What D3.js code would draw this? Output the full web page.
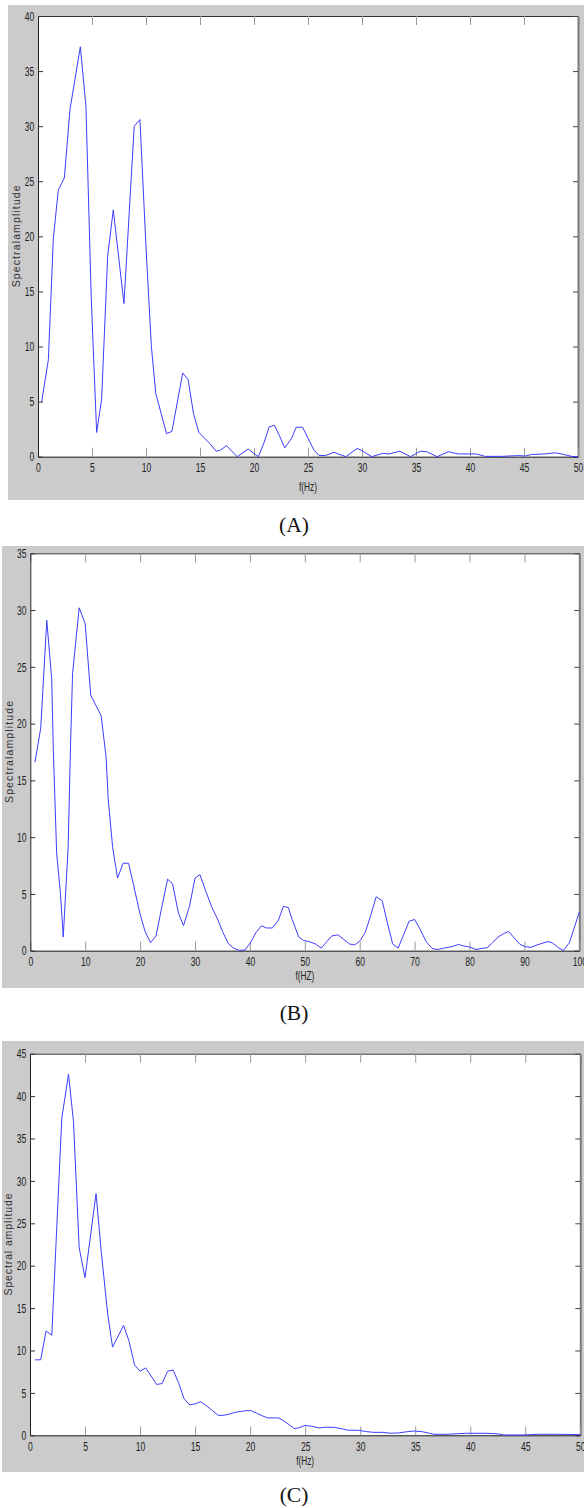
<!DOCTYPE html>
<html>
<head>
<meta charset="utf-8">
<script src="https://cdn.jsdelivr.net/npm/d3@7"></script>
<style>
  body { margin: 0; background: #fff; }
  svg { display: block; }
</style>
</head>
<body>
<svg id="chart" width="584" height="1508"></svg>
<script>
// three spectra, frequency (Hz) vs spectral amplitude

// (A) 0-50 Hz
const aFreq = [0.34, 0.96, 1.42, 1.88, 2.44, 2.96, 3.92, 4.44, 4.93, 5.43, 5.89, 6.45, 6.97, 7.96, 8.91, 9.44,
  10.0, 10.5, 10.9, 11.9, 12.4, 13.4, 13.9, 14.4, 14.9, 15.9, 16.5, 16.9, 17.45, 18.44, 19.46, 20.4, 20.94,
  21.4, 21.9, 22.4, 22.85, 23.5, 23.9, 24.5, 25.0, 25.55, 26.0, 26.6, 27.4, 28.5, 29.55, 30.0, 30.9, 31.9,
  32.5, 33.5, 34.5, 35.4, 36.0, 36.95, 38.0, 38.9, 40.6, 41.4, 42.9, 44.5, 45.1, 45.7, 46.9, 47.9, 48.5,
  49.4, 50.0]
const aAmp = [5.0, 8.8, 19.8, 24.2, 25.3, 31.5, 37.2, 31.8, 14.4, 2.2, 5.2, 18.2, 22.4, 13.9, 30.0, 30.6,
  19.0, 10.0, 5.75, 2.1, 2.3, 7.6, 7.0, 3.9, 2.2, 1.2, 0.5, 0.6, 1.0, 0.0, 0.7, 0.0, 1.3,
  2.7, 2.85, 1.8, 0.8, 1.7, 2.67, 2.67, 1.67, 0.6, 0.12, 0.1, 0.4, 0.0, 0.75, 0.55, 0.0, 0.3,
  0.25, 0.5, 0.0, 0.5, 0.45, 0.0, 0.45, 0.25, 0.25, 0.03, 0.03, 0.1, 0.06, 0.2, 0.25, 0.35, 0.25,
  0.03, 0.0]

// (B) 0-100 Hz
const bFreq = [0.85, 1.9, 3.0, 3.9, 4.2, 4.8, 5.5, 6.0, 6.9, 7.3, 7.7, 8.9, 10.0, 11.0, 12.9, 13.8, 14.2,
  15.0, 15.9, 16.9, 17.9, 18.9, 19.9, 20.9, 21.9, 22.9, 23.9, 25.0, 25.9, 27.0, 27.9, 29.0, 30.0, 30.9,
  32.0, 33.0, 34.1, 35.0, 36.1, 37.1, 38.1, 39.1, 40.1, 41.1, 42.1, 43.0, 44.1, 45.2, 46.1, 47.0, 47.7,
  48.9, 49.8, 50.8, 51.9, 53.0, 54.0, 54.9, 56.0, 57.1, 58.1, 59.1, 60.1, 61.0, 62.0, 63.0, 64.1, 65.0,
  66.0, 67.0, 68.0, 69.0, 70.0, 71.0, 72.1, 73.2, 74.1, 75.1, 76.2, 77.1, 78.0, 79.1, 80.2, 81.2, 82.2,
  83.2, 84.1, 85.2, 86.2, 87.1, 88.2, 89.2, 90.2, 91.2, 92.3, 93.2, 94.3, 95.1, 96.2, 97.1, 98.2, 100.0]
const bAmp = [16.6, 19.6, 29.1, 23.9, 17.6, 8.6, 5.0, 1.2, 9.2, 17.6, 24.4, 30.2, 28.8, 22.5, 20.7, 17.1, 13.3,
  9.1, 6.4, 7.7, 7.7, 5.6, 3.4, 1.7, 0.7, 1.3, 3.7, 6.3, 5.9, 3.3, 2.2, 3.9, 6.4, 6.7,
  5.2, 3.9, 2.8, 1.7, 0.6, 0.2, 0.03, 0.06, 0.7, 1.6, 2.2, 2.0, 2.0, 2.7, 3.9, 3.8, 2.75,
  1.2, 0.9, 0.8, 0.6, 0.23, 0.8, 1.3, 1.4, 1.0, 0.6, 0.5, 0.9, 1.6, 3.1, 4.75, 4.4, 2.55,
  0.6, 0.23, 1.4, 2.6, 2.75, 1.9, 0.8, 0.2, 0.1, 0.2, 0.3, 0.4, 0.55, 0.4, 0.3, 0.1, 0.2,
  0.26, 0.65, 1.2, 1.5, 1.7, 1.1, 0.55, 0.35, 0.3, 0.5, 0.65, 0.8, 0.7, 0.26, 0.03, 0.7, 3.4]

// (C) 0-50 Hz
const cFreq = [0.46, 0.97, 1.46, 1.98, 2.89, 3.5, 3.95, 4.47, 5.0, 6.0, 6.47, 7.05, 7.5, 8.5, 9.0, 9.5,
  10.0, 10.5, 11.0, 11.5, 12.0, 12.5, 13.0, 13.5, 14.0, 14.5, 15.0, 15.5, 16.0, 16.6, 17.1, 17.6, 18.1,
  18.6, 19.1, 19.6, 20.1, 20.6, 21.1, 21.6, 22.1, 22.6, 23.1, 23.6, 24.0, 24.4, 25.0, 25.6, 26.3, 26.8,
  27.6, 28.4, 28.9, 29.8, 30.6, 31.2, 32.0, 32.8, 33.5, 34.3, 34.9, 35.6, 36.2, 36.7, 37.9, 39.7, 41.5,
  42.6, 43.0, 44.9, 46.1, 47.9, 50.0]
const cAmp = [8.9, 8.9, 12.3, 11.8, 37.4, 42.6, 37.0, 22.1, 18.6, 28.5, 21.7, 14.4, 10.4, 12.95, 11.1, 8.3,
  7.55, 7.95, 7.0, 6.0, 6.1, 7.55, 7.7, 6.2, 4.3, 3.6, 3.7, 3.95, 3.5, 2.9, 2.35, 2.35, 2.5,
  2.7, 2.8, 2.9, 2.9, 2.6, 2.3, 2.05, 2.05, 2.05, 1.65, 1.2, 0.8, 0.87, 1.18, 1.06, 0.87, 0.95,
  0.95, 0.75, 0.6, 0.6, 0.43, 0.35, 0.35, 0.24, 0.28, 0.43, 0.5, 0.43, 0.28, 0.12, 0.12, 0.24, 0.24,
  0.15, 0.04, 0.04, 0.12, 0.12, 0.08]

// tick values
const ticks0to50 = [0, 5, 10, 15, 20, 25, 30, 35, 40, 45, 50]
const ticks0to100 = [0, 10, 20, 30, 40, 50, 60, 70, 80, 90, 100]
const aYTicks = [0, 5, 10, 15, 20, 25, 30, 35, 40]
const bYTicks = [0, 5, 10, 15, 20, 25, 30, 35]
const cYTicks = [0, 5, 10, 15, 20, 25, 30, 35, 40, 45]

// panel layout: grey figure box, white axes box, labels
const panels = [
  { freq: aFreq, amp: aAmp, xMax: 50, yMax: 40, xTicks: ticks0to50, yTicks: aYTicks,
    frame: [8, 5, 576, 495], box: [38, 16, 578, 456.7],
    xLabel: "f(Hz)", xLabelY: 490.5, yLabel: "Spectralamplitude", yLabelX: 20,
    caption: "(A)", captionY: 532 },
  { freq: bFreq, amp: bAmp, xMax: 100, yMax: 35, xTicks: ticks0to100, yTicks: bYTicks,
    frame: [2, 546, 582, 442], box: [30.3, 553.3, 579.3, 950.7],
    xLabel: "f(HZ)", xLabelY: 980, yLabel: "Spectralamplitude", yLabelX: 12.5,
    caption: "(B)", captionY: 1020 },
  { freq: cFreq, amp: cAmp, xMax: 50, yMax: 45, xTicks: ticks0to50, yTicks: cYTicks,
    frame: [2, 1041, 582, 431], box: [30, 1053.7, 580.3, 1435.3],
    xLabel: "f(Hz)", xLabelY: 1465, yLabel: "Spectral amplitude", yLabelX: 12,
    caption: "(C)", captionY: 1502 }
]

const svg = d3.select("#chart")
const narrow = "scale(0.66,1)"   // matlab tick font looks squashed
const tickFont = "Liberation Sans, Arial, sans-serif"

panels.forEach(p => {
  const [x0, y0, x1, y1] = p.box
  const w = x1 - x0, h = y1 - y0

  // grey figure background
  svg.append("rect")
    .attr("x", p.frame[0]).attr("y", p.frame[1])
    .attr("width", p.frame[2]).attr("height", p.frame[3])
    .attr("fill", "#cbcbcb")

  const g = svg.append("g").attr("transform", `translate(${x0},${y0})`)

  g.append("rect").attr("width", w).attr("height", h).attr("fill", "#fff")

  const x = d3.scaleLinear().domain([0, p.xMax]).range([0, w])
  const y = d3.scaleLinear().domain([0, p.yMax]).range([h, 0])

  // top and right box edges with inward ticks, no labels
  g.append("g")
    .call(d3.axisTop(x).tickValues(p.xTicks).tickSizeInner(-9).tickSizeOuter(0).tickFormat(""))
    .call(a => a.select(".domain").attr("stroke", "#333"))
    .call(a => a.selectAll(".tick line").attr("stroke", "#9a9a9a"))

  g.append("g").attr("transform", `translate(${w},0)`)
    .call(d3.axisRight(y).tickValues(p.yTicks).tickSizeInner(-5).tickSizeOuter(0).tickFormat(""))
    .call(a => a.select(".domain").attr("stroke", "#7a7a7a").attr("stroke-width", 2))
    .call(a => a.selectAll(".tick line").attr("stroke", "#444"))

  // bottom axis
  g.append("g").attr("transform", `translate(0,${h})`)
    .call(d3.axisBottom(x).tickValues(p.xTicks).tickSizeInner(-9).tickSizeOuter(0).tickPadding(6.5))
    .attr("font-family", tickFont).attr("font-size", 13)
    .call(a => a.select(".domain").attr("stroke", "#222"))
    .call(a => a.selectAll(".tick line").attr("stroke", "#9a9a9a"))
    .call(a => a.selectAll("text").attr("transform", narrow).attr("fill", "#222"))

  // left axis
  g.append("g")
    .call(d3.axisLeft(y).tickValues(p.yTicks).tickSizeInner(-5).tickSizeOuter(0).tickPadding(5.6))
    .attr("font-family", tickFont).attr("font-size", 13)
    .call(a => a.select(".domain").attr("stroke", "#222"))
    .call(a => a.selectAll(".tick line").attr("stroke", "#333"))
    .call(a => a.selectAll("text").attr("transform", narrow).attr("fill", "#222"))

  // spectrum line
  const line = d3.line()
    .x((d, i) => x(p.freq[i]))
    .y(d => y(d))

  g.append("path")
    .datum(p.amp)
    .attr("d", line)
    .attr("fill", "none")
    .attr("stroke", "#3d3dff")
    .attr("stroke-width", 1)

  // axis titles
  svg.append("text")
    .attr("transform", `translate(${x0 + w / 2},${p.xLabelY}) ${narrow}`)
    .attr("text-anchor", "middle")
    .style("font-family", tickFont).style("font-size", "12.5px").style("fill", "#222")
    .text(p.xLabel)

  svg.append("text")
    .attr("transform", `translate(${p.yLabelX},${y0 + h / 2}) rotate(-90)`)
    .attr("text-anchor", "middle")
    .attr("textLength", 102).attr("lengthAdjust", "spacing")
    .style("font-family", tickFont).style("font-size", "10.5px").style("fill", "#333")
    .text(p.yLabel)

  // caption under the figure
  svg.append("text")
    .attr("x", 294).attr("y", p.captionY)
    .attr("text-anchor", "middle")
    .style("font-family", "Liberation Serif, Times New Roman, serif")
    .style("font-size", "21.5px").style("fill", "#111")
    .text(p.caption)
})
</script>
</body>
</html>
